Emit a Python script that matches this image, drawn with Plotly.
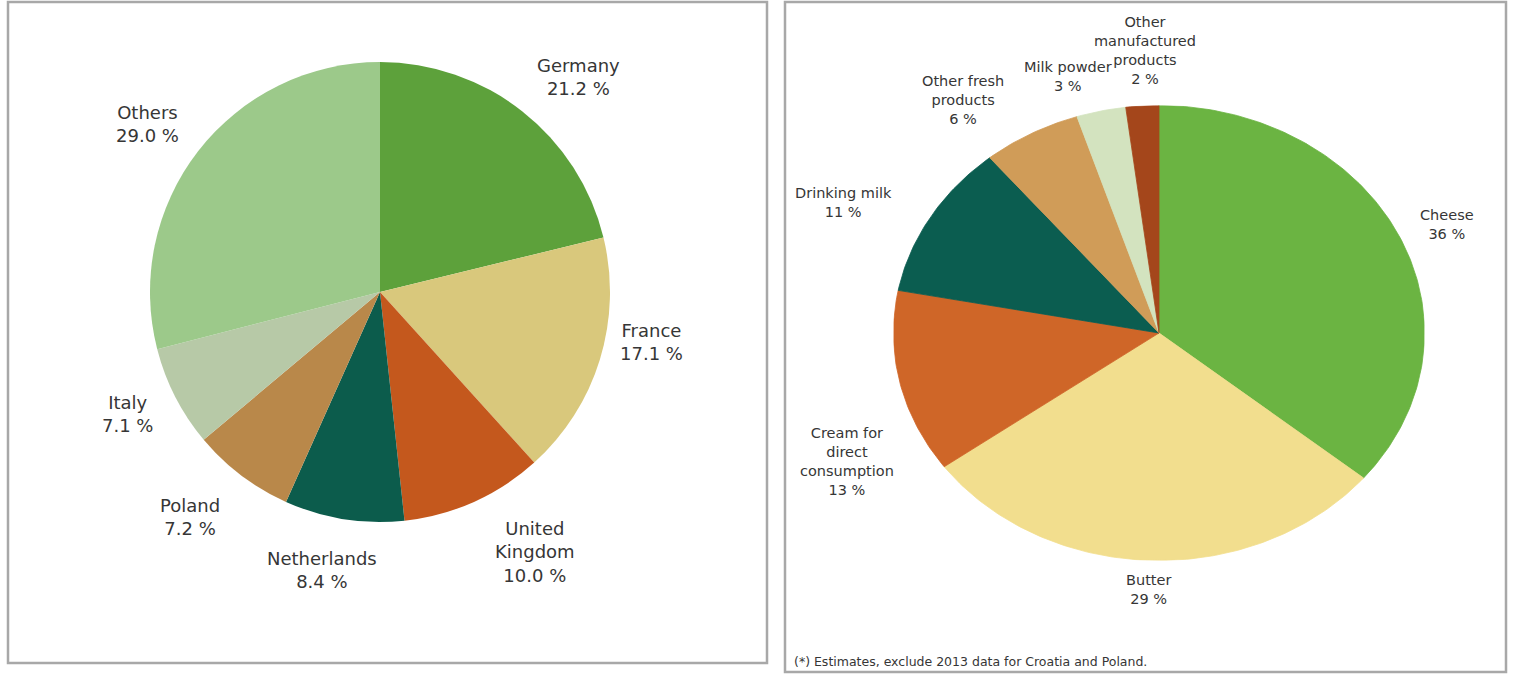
import numpy as np
import plotly.graph_objects as go

# ---------------- data ----------------
country_labels = ["Germany", "France", "United Kingdom", "Netherlands", "Poland", "Italy", "Others"]
country_values = [21.2, 17.1, 10.0, 8.4, 7.2, 7.1, 29.0]
country_text = ["Germany<br>21.2 %", "France<br>17.1 %", "United<br>Kingdom<br>10.0 %",
                "Netherlands<br>8.4 %", "Poland<br>7.2 %", "Italy<br>7.1 %", "Others<br>29.0 %"]
country_colors = ["#5da13b", "#d9c87c", "#c4581d", "#0c5c4c", "#b9884a", "#b7c9a7", "#9cc98a"]

product_labels = ["Cheese", "Butter", "Cream for direct consumption", "Drinking milk",
                  "Other fresh products", "Milk powder", "Other manufactured products"]
product_values = [36, 29, 13, 11, 6, 3, 2]
product_text = ["Cheese<br>36 %", "Butter<br>29 %", "Cream for<br>direct<br>consumption<br>13 %",
                "Drinking milk<br>11 %", "Other fresh<br>products<br>6 %", "Milk powder<br>3 %",
                "Other<br>manufactured<br>products<br>2 %"]
product_colors = ["#6bb442", "#f2de8e", "#cf6628", "#0b5d50", "#d09c58", "#d3e3bf", "#a4461b"]

footnote = "(*) Estimates, exclude 2013 data for Croatia and Poland."

# ---------------- layout helpers ----------------
W, H = 1517, 676
def px(x):
    return x / W
def py(y):
    return 1 - y / H

# label positions (pixels) for the annotations
country_label_pos = [(578, 77), (651, 342), (535, 552), (322, 570), (190, 517), (127, 414), (147, 124)]
product_label_pos = [(1447, 224), (1148, 589), (847, 461), (843, 202), (963, 100), (1068, 76), (1145, 50)]

fig = go.Figure()

# Left pie (circular)
fig.add_trace(go.Pie(
    labels=country_labels, values=country_values, sort=False, direction="clockwise",
    rotation=0, textinfo="none", showlegend=False, hoverinfo="label+percent",
    marker=dict(colors=country_colors, line=dict(width=0)),
    domain=dict(x=[px(150), px(610)], y=[py(522), py(62)]),
))

# Right pie (elliptical) drawn as filled wedges in a stretched axis
total = float(sum(product_values))
start = 0.0
for lab, val, col in zip(product_labels, product_values, product_colors):
    a0 = start / total * 2 * np.pi
    a1 = (start + val) / total * 2 * np.pi
    t = np.linspace(a0, a1, max(8, int(val * 4)))
    xs = np.concatenate([[0], np.sin(t), [0]])
    ys = np.concatenate([[0], np.cos(t), [0]])
    fig.add_trace(go.Scatter(
        x=xs, y=ys, mode="lines", fill="toself", fillcolor=col,
        line=dict(color=col, width=0.8), name=lab, showlegend=False,
        hoverinfo="name", xaxis="x", yaxis="y",
    ))
    start += val

fig.update_layout(
    width=W, height=H, margin=dict(l=0, r=0, t=0, b=0),
    paper_bgcolor="white", plot_bgcolor="rgba(0,0,0,0)",
    xaxis=dict(domain=[px(893.5), px(1424.5)], range=[-1, 1], visible=False, fixedrange=True),
    yaxis=dict(domain=[py(560.5), py(105.5)], range=[-1, 1], visible=False, fixedrange=True),
)

annotations = []
for txt, (x, y) in zip(country_text, country_label_pos):
    annotations.append(dict(text=txt, x=px(x), y=py(y), xref="paper", yref="paper",
                            xanchor="center", yanchor="middle", showarrow=False, align="center",
                            font=dict(family="DejaVu Sans", size=18, color="#363636")))
for txt, (x, y) in zip(product_text, product_label_pos):
    annotations.append(dict(text=txt, x=px(x), y=py(y), xref="paper", yref="paper",
                            xanchor="center", yanchor="middle", showarrow=False, align="center",
                            font=dict(family="DejaVu Sans", size=14.5, color="#363636")))
annotations.append(dict(text=footnote, x=px(792), y=py(661), xref="paper", yref="paper",
                        xanchor="left", yanchor="middle", showarrow=False,
                        font=dict(family="DejaVu Sans", size=12.5, color="#363636")))
fig.update_layout(annotations=annotations)

# panel frames
shapes = [
    dict(type="rect", xref="paper", yref="paper", x0=px(8), x1=px(767), y0=py(663), y1=py(2),
         line=dict(color="#a8a8a8", width=2.5)),
    dict(type="rect", xref="paper", yref="paper", x0=px(785), x1=px(1506), y0=py(672), y1=py(2),
         line=dict(color="#a8a8a8", width=2.5)),
]
fig.update_layout(shapes=shapes)

fig.write_html("out.html", config={"displayModeBar": False},
               post_script="document.body.style.margin='0';document.body.style.overflow='hidden';")
